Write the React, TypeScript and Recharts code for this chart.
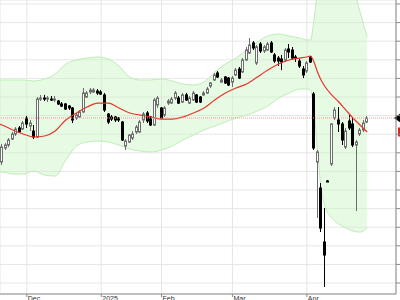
import React from "react";
import {
  ComposedChart,
  Area,
  Line,
  Bar,
  XAxis,
  YAxis,
  CartesianGrid,
  ReferenceLine,
} from "recharts";

// daily candles, one per session (index 0 = last days of Nov)
const open = [
  430.1, 445.2, 448.4, 454.8, 460.2, 466.7, 465.6, 477.4, 468.8, 463.4,
  457.0, 497.8, 498.9, 497.8, 497.8, 496.8, 495.7, 492.5, 492.5, 490.3,
  488.2, 477.4, 478.5, 483.9, 500.0, 505.4, 505.4, 506.4, 505.4, 502.2,
  481.7, 478.5, 478.5, 477.4, 473.1, 447.3, 451.6, 455.9, 462.4, 462.4,
  475.3, 482.8, 478.5, 469.9, 491.4, 488.2, 480.6, 493.5, 493.5, 498.9,
  498.9, 494.6, 502.2, 493.5, 496.8, 502.2, 500.0, 502.2, 504.3, 511.8,
  518.3, 525.8, 516.1, 521.5, 520.4, 516.1, 523.7, 530.1, 526.9, 539.8,
  547.3, 558.1, 536.6, 557.0, 549.5, 550.5, 558.1, 545.2, 541.9, 540.9,
  539.8, 551.6, 550.5, 543.0, 538.7, 530.1, 527.9, 543.0, 503.2, 430.1,
  402.1, 344.1, 409.7, 428.0, 477.4, 475.3, 471.0, 446.2, 474.2, 471.0,
  448.4, 460.2, 464.5, 473.1,
];
const high = [
  449.5, 450.5, 455.9, 462.4, 467.7, 468.8, 474.2, 479.6, 475.3, 469.9,
  500.0, 502.2, 502.2, 501.1, 501.1, 501.1, 496.8, 494.6, 493.5, 491.4,
  489.2, 482.8, 486.0, 509.7, 506.4, 509.7, 509.7, 508.6, 507.5, 504.3,
  482.8, 480.6, 479.6, 478.5, 474.2, 454.8, 460.2, 463.4, 469.9, 475.3,
  483.9, 484.9, 479.6, 498.9, 501.1, 489.2, 490.3, 497.8, 500.0, 506.4,
  501.1, 504.3, 504.3, 501.1, 506.4, 503.2, 501.1, 506.4, 510.8, 516.1,
  525.8, 527.9, 520.4, 522.6, 521.5, 522.6, 531.2, 532.3, 541.9, 553.8,
  563.4, 560.2, 555.9, 559.1, 555.9, 559.1, 560.2, 547.3, 544.1, 545.2,
  552.7, 557.0, 553.8, 545.2, 541.9, 533.3, 538.7, 544.1, 505.4, 443.0,
  407.5, 380.6, 410.8, 472.0, 489.2, 489.2, 473.1, 466.7, 480.6, 477.4,
  453.8, 466.7, 475.3, 479.6,
];
const low = [
  426.9, 443.0, 446.2, 453.8, 458.1, 461.3, 464.5, 466.7, 463.4, 454.8,
  455.9, 495.7, 495.7, 494.6, 495.7, 494.6, 491.4, 489.2, 486.0, 486.0,
  472.0, 475.3, 477.4, 482.8, 498.9, 503.2, 504.3, 502.2, 502.2, 483.9,
  471.0, 474.2, 473.1, 473.1, 452.7, 443.0, 450.5, 453.8, 460.2, 461.3,
  472.0, 472.0, 468.8, 468.8, 488.2, 476.3, 478.5, 491.4, 492.5, 496.8,
  492.5, 493.5, 495.7, 492.5, 495.7, 493.5, 493.5, 501.1, 503.2, 509.7,
  517.2, 520.4, 515.1, 514.0, 511.8, 510.8, 522.6, 519.4, 525.8, 538.7,
  546.2, 550.5, 534.4, 547.3, 547.3, 549.5, 547.3, 536.6, 533.3, 529.0,
  537.6, 541.9, 539.8, 537.6, 531.2, 520.4, 525.8, 536.6, 443.0, 369.9,
  354.8, 295.7, 408.6, 425.8, 475.3, 462.4, 448.4, 444.1, 464.5, 446.2,
  377.4, 458.1, 462.4, 472.0,
];
const close = [
  446.2, 448.4, 453.8, 460.2, 465.6, 462.4, 472.0, 471.0, 472.0, 457.0,
  497.8, 498.9, 497.8, 498.9, 496.8, 497.8, 492.5, 490.3, 487.1, 488.2,
  475.3, 480.6, 483.9, 504.3, 504.3, 507.5, 507.5, 504.3, 503.2, 486.0,
  473.1, 476.3, 475.3, 475.3, 453.8, 452.7, 459.1, 460.2, 467.7, 473.1,
  481.7, 474.2, 469.9, 496.8, 498.9, 477.4, 488.2, 495.7, 497.8, 504.3,
  493.5, 502.2, 496.8, 498.9, 504.3, 494.6, 494.6, 504.3, 508.6, 515.1,
  523.7, 521.5, 518.3, 515.1, 512.9, 520.4, 529.0, 520.4, 539.8, 550.5,
  555.9, 552.7, 553.8, 549.5, 553.8, 557.0, 548.4, 538.7, 538.7, 537.6,
  550.5, 548.4, 541.9, 541.9, 533.3, 523.7, 536.6, 537.6, 445.2, 440.9,
  359.1, 330.1, 409.1, 471.0, 486.0, 471.0, 453.8, 463.4, 466.7, 448.4,
  451.6, 464.5, 472.0, 477.4,
];

// moving average + bands, sampled every few sessions
const indIdx = [
  -1, 0, 3, 6, 9, 12, 15, 18, 21, 24, 27, 30, 33, 36, 39, 42, 45, 48, 51, 54,
  57, 60, 63, 66, 69, 72, 75, 78, 81, 84, 86, 87, 88, 89, 90, 91, 93, 95, 97,
  99, 101, 103,
];
const maValues = [
  471.0, 469.9, 464.5, 460.2, 457.0, 458.1, 463.4, 475.3, 482.8, 489.2,
  493.5, 493.5, 488.2, 482.8, 480.6, 478.5, 476.3, 476.3, 478.5, 482.8,
  488.2, 496.8, 504.3, 509.7, 514.0, 521.5, 529.0, 535.5, 539.8, 541.9,
  543.0, 544.1, 537.6, 526.9, 518.3, 511.8, 502.2, 494.6, 486.0, 477.4,
  469.9, 462.4,
];
const bandUpper = [
  518.3, 518.3, 518.3, 518.3, 517.2, 519.4, 524.7, 535.5, 539.8, 541.9,
  543.0, 540.9, 533.3, 521.5, 518.3, 518.3, 519.4, 517.2, 514.0, 512.9,
  516.1, 526.9, 535.5, 541.9, 550.5, 559.1, 565.6, 567.7, 565.6, 563.4,
  561.3, 561.3, 582.8, 615.1, 636.6, 652.7, 663.4, 663.4, 658.1, 620.4,
  591.4, 564.5,
];
const bandLower = [
  419.3, 419.3, 417.2, 417.2, 420.4, 416.1, 415.0, 432.3, 447.3, 451.6,
  452.7, 451.6, 448.4, 444.1, 441.9, 440.9, 443.0, 447.3, 453.8, 459.1,
  464.5, 468.8, 473.1, 477.4, 480.6, 484.9, 490.3, 498.9, 504.3, 508.6,
  508.6, 507.5, 486.0, 443.0, 402.1, 383.9, 369.9, 363.4, 359.1, 355.9,
  354.8, 359.1,
];

const monthTicks = [7, 28, 45, 65, 86];
const monthLabels = ["Dec", "2025", "Feb", "Mar", "Apr"];
const priceTicks = [
  300, 320, 340, 360, 380, 400, 420, 440, 460, 480, 500, 520, 540, 560, 580, 600,
];

const rows: any[] = [];
for (let i = -1; i < close.length; i++) {
  const row: any = { i };
  if (i >= 0) {
    row.open = open[i];
    row.high = high[i];
    row.low = low[i];
    row.close = close[i];
  }
  const k = indIdx.indexOf(i);
  if (k >= 0) {
    row.band = [bandLower[k], bandUpper[k]];
    row.ma = maValues[k];
  }
  rows.push(row);
}

const lastClose = close[close.length - 1];
const lastMa = maValues[maValues.length - 1];

function Candle(props: any) {
  const { x, y, width, height, payload } = props;
  if (!payload || payload.open === undefined || !isFinite(y)) return null;
  const { open: o, close: c, high: h, low: l } = payload;
  const top = Math.min(y, y + height);
  const span = Math.abs(height);
  const toY = (v: number) => top + ((h - v) / (h - l)) * span;
  const cx = Math.floor(x + width / 2) + 0.5;
  const yo = toY(o);
  const yc = toY(c);
  const up = c >= o;
  const bTop = Math.min(yo, yc);
  const bH = Math.max(Math.abs(yo - yc), 1);
  const col = up ? "#6e6e6e" : "#000";
  return (
    <g>
      <line x1={cx} x2={cx} y1={top} y2={top + span} stroke={col} strokeWidth={1} />
      <rect
        x={cx - 1}
        y={bTop}
        width={2}
        height={bH}
        fill={up ? "#fff" : "#000"}
        stroke={col}
        strokeWidth={1}
      />
    </g>
  );
}

function MonthTick(props: any) {
  const { x, y, payload } = props;
  const label = monthLabels[monthTicks.indexOf(payload.value)];
  return (
    <text x={x + 1} y={y + 1.5} fontSize={7} fill="#333" textAnchor="start">
      {label}
    </text>
  );
}

function LastPriceMarker(props: any) {
  const vb = props.viewBox;
  if (!vb) return null;
  const x = vb.x + vb.width;
  const y = vb.y;
  return <polygon points={`${x - 2},${y} ${x + 5},${y - 5} ${x + 5},${y + 5}`} fill="#000" />;
}

function MaMarker(props: any) {
  const vb = props.viewBox;
  if (!vb) return null;
  const x = vb.x + vb.width;
  return <rect x={x + 2} y={vb.y - 4.5} width={10} height={9} fill="#e0201c" />;
}

export default function App() {
  return (
    <div
      style={{
        position: "absolute",
        left: 0,
        top: 0,
        width: 400,
        height: 300,
        background: "#fff",
        fontFamily: "'Liberation Sans', Arial, sans-serif",
      }}
    >
      <ComposedChart
        width={400}
        height={300}
        data={rows}
        margin={{ top: 0, right: 0, bottom: 0, left: 0 }}
      >
        <CartesianGrid stroke="#e6e6e6" />
        <XAxis
          dataKey="i"
          type="number"
          domain={[-0.56, 111.14]}
          allowDataOverflow
          ticks={monthTicks}
          interval={0}
          height={6}
          tickSize={3}
          tickMargin={2}
          stroke="#8a8a8a"
          tick={<MonthTick />}
        />
        <YAxis
          orientation="right"
          domain={[288.2, 604.3]}
          allowDataOverflow
          ticks={priceTicks}
          width={4}
          tickSize={4}
          stroke="#8a8a8a"
          tickFormatter={() => ""}
        />
        <Area
          dataKey="band"
          type="monotone"
          stroke="#bdeeb6"
          strokeWidth={1}
          fill="#c9f3c3"
          fillOpacity={0.45}
          connectNulls
          dot={false}
          activeDot={false}
          isAnimationActive={false}
        />
        <Line
          dataKey="ma"
          type="monotone"
          stroke="#e8352c"
          strokeWidth={1.2}
          dot={false}
          activeDot={false}
          connectNulls
          isAnimationActive={false}
        />
        <Bar
          dataKey={(d: any) => (d.open === undefined ? undefined : [d.low, d.high])}
          barSize={3}
          shape={<Candle />}
          isAnimationActive={false}
        />
        <ReferenceLine
          y={lastClose}
          stroke="#f09a9a"
          strokeDasharray="1 1"
          label={<LastPriceMarker />}
        />
        <ReferenceLine y={lastMa} stroke="none" label={<MaMarker />} />
      </ComposedChart>
    </div>
  );
}
